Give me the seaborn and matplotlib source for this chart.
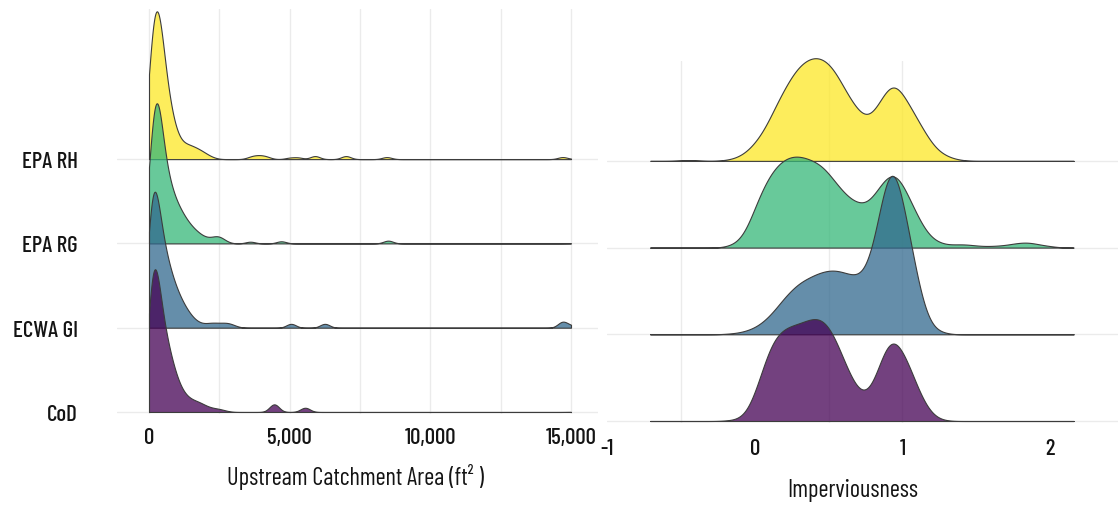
import numpy as np
import matplotlib
matplotlib.use("Agg")
import matplotlib.pyplot as plt
import matplotlib.transforms as mtransforms
import seaborn as sns

# ---------------- data ----------------
groups = ["CoD", "ECWA GI", "EPA RG", "EPA RH"]          # bottom -> top
draw_order = ["EPA RH", "EPA RG", "ECWA GI", "CoD"]       # lower ridges drawn on top
palette = {"EPA RH": "#FDE725", "EPA RG": "#35B779", "ECWA GI": "#31688E", "CoD": "#440154"}

# Upstream catchment area (ft2): binned values and relative frequencies
area_rh_x = [0, 100, 200, 300, 400, 500, 600, 700, 800, 900, 1000, 1100, 1200, 1300, 1400,
             1500, 1600, 1700, 1800, 1900, 2000, 2100, 2200, 2300, 2400,
             3600, 3800, 4000, 4200, 5000, 5300, 5900, 7000, 8450, 14700, 15000]
area_rh_w = [100, 130, 165, 170, 140, 105, 80, 60, 45, 32, 24, 17, 15, 15, 14,
             13, 12, 11, 9, 8, 6, 4, 2.5, 1.5, 0.5,
             6, 8, 8, 6, 5, 6, 12, 12, 8, 8, 0.5]

area_rg_x = [0, 100, 200, 300, 400, 500, 600, 700, 800, 900, 1000, 1100, 1200, 1300, 1400,
             1500, 1600, 1700, 1800, 1900, 2000, 2100, 2200, 2300, 2400, 2500, 2600, 2700, 2800,
             3600, 4700, 8500, 15000]
area_rg_w = [88, 145, 200, 200, 150, 110, 88, 75, 63, 53, 46, 40, 34, 29, 24,
             20, 17, 14, 11, 9, 7, 6, 6, 8, 10, 10, 7, 3, 1.5,
             8, 10, 13, 0.5]

area_gi_x = [0, 100, 200, 300, 400, 500, 600, 700, 800, 900, 1000, 1100, 1200, 1300, 1400,
             1500, 1600, 1700, 1800, 1900, 2000, 2100, 2200, 2300, 2400, 2500, 2600, 2700,
             2800, 2900, 3000, 3100, 3200, 5050, 6250, 14700, 15000]
area_gi_w = [150, 180, 175, 145, 112, 93, 80, 68, 57, 48, 40, 33, 27, 22, 17,
             13, 9, 7, 5, 4, 4, 5, 6, 5.5, 5, 5, 5, 5.5,
             6, 5, 3, 1.5, 0.5, 17, 17, 25, 8]

area_cod_x = [0, 100, 200, 300, 400, 500, 600, 700, 800, 900, 1000, 1100, 1200, 1300, 1400,
              1500, 1600, 1700, 1800, 1900, 2000, 2100, 2200, 2300, 2400, 2500, 2600, 2700,
              2800, 4450, 5550, 15000]
area_cod_w = [168, 205, 210, 175, 135, 108, 92, 78, 64, 50, 40, 31, 24, 20, 17,
              15, 14, 13, 12, 10, 8, 6, 5, 4.5, 4.5, 4, 3, 2,
              1, 38, 21, 0.5]

# Imperviousness: binned values and relative frequencies
imp_bins = [-0.2, -0.15, -0.1, -0.05, 0.0, 0.05, 0.1, 0.15, 0.2, 0.25, 0.3, 0.35, 0.4,
            0.45, 0.5, 0.55, 0.6, 0.65, 0.7, 0.75, 0.8, 0.85, 0.9, 0.95, 1.0, 1.05,
            1.1, 1.15, 1.2, 1.25, 1.3]
imp_rh_w = [1, 2, 5, 10, 18, 28, 42, 58, 72, 85, 95, 101, 104,
            103, 98, 88, 74, 61, 50, 43, 47, 60, 74, 78, 68, 55,
            42, 29, 17, 9, 5]
imp_rg_w = [1, 3, 8, 20, 40, 58, 72, 82, 88, 91, 91, 89, 86,
            82, 74, 64, 55, 48, 44, 43, 50, 62, 72, 75, 64, 48,
            32, 18, 9, 5, 3]
imp_gi_w = [0.5, 1, 2, 4, 7, 12, 19, 28, 38, 46, 53, 57, 61,
            64, 66, 66, 64, 61, 60, 66, 90, 130, 170, 175, 140, 100,
            58, 25, 8, 3, 1]
imp_cod_w = [0.5, 1, 3, 10, 28, 52, 75, 88, 94, 97, 99, 102, 105,
             104, 97, 82, 63, 45, 31, 27, 37, 60, 81, 84, 72, 55,
             35, 18, 7, 2, 0.5]
# extra tail values
imp_rh_tail_x = [-0.5, -0.45, -0.4, 1.35, 1.4]
imp_rh_tail_w = [0.8, 1.0, 0.8, 2, 1]
imp_rg_tail_x = [1.35, 1.4, 1.45, 1.5, 1.55, 1.6, 1.65, 1.7, 1.75, 1.8, 1.85, 1.9, 1.95, 2.0, 2.05]
imp_rg_tail_w = [3, 3.5, 3, 2, 1.5, 1.5, 2, 2.5, 4, 5, 5.5, 4, 2.5, 1.5, 0.5]

area_data = {
    "EPA RH": (area_rh_x, area_rh_w),
    "EPA RG": (area_rg_x, area_rg_w),
    "ECWA GI": (area_gi_x, area_gi_w),
    "CoD": (area_cod_x, area_cod_w),
}
imp_data = {
    "EPA RH": (imp_bins + imp_rh_tail_x, imp_rh_w + imp_rh_tail_w),
    "EPA RG": (imp_bins + imp_rg_tail_x, imp_rg_w + imp_rg_tail_w),
    "ECWA GI": (imp_bins, imp_gi_w),
    "CoD": (imp_bins, imp_cod_w),
}

# ---------------- style ----------------
FONT = ["Barlow Condensed", "DejaVu Sans"]
sns.set_theme(style="white")
plt.rcParams["font.family"] = FONT
plt.rcParams["font.weight"] = "medium"
GRID = "#ebebeb"
EDGE = "#3c3c3c"
TXT = "#141414"


def ridge(ax, x, w, row, color, bw, clip, scale):
    x = np.asarray(x, float)
    w = np.asarray(w, float)
    std = np.sqrt(np.cov(x, aweights=w))
    n0 = len(ax.collections)
    sns.kdeplot(x=x, weights=w, ax=ax, fill=True, color=color, alpha=0.75,
                edgecolor=EDGE, linewidth=0.8, bw_method=bw / std, cut=40,
                clip=clip, gridsize=1500)
    tr = mtransforms.Affine2D().scale(1, scale).translate(0, row) + ax.transData
    for c in ax.collections[n0:]:
        c.set_transform(tr)
        c.set_clip_on(False)


W, H = 1118, 506
fig = plt.figure(figsize=(W / 100, H / 100), dpi=100)

axL = fig.add_axes([117 / W, 1 - 415 / H, 481 / W, 405 / H])
axR = fig.add_axes([607 / W, 1 - 424 / H, 511 / W, 362 / H])

rows = {g: i for i, g in enumerate(groups)}

for g in draw_order:
    x, w = area_data[g]
    ridge(axL, x, w, rows[g], palette[g], bw=170, clip=(0, 15000), scale=1600)
    x, w = imp_data[g]
    ridge(axR, x, w, rows[g], palette[g], bw=0.045, clip=(-0.71, 2.16), scale=0.94)

for ax in (axL, axR):
    ax.set_facecolor("white")
    for s in ax.spines.values():
        s.set_visible(False)
    ax.tick_params(length=0, labelsize=16.5, colors=TXT)
    ax.set_ylabel("")
    ax.grid(False)
    for r in range(len(groups)):
        ax.axhline(r, color=GRID, lw=1.0, zorder=0)

# left axis
axL.set_xlim(-1138, 15960)
axL.set_ylim(-0.024, 4.781)
for v in [0, 2500, 5000, 7500, 10000, 12500, 15000]:
    axL.axvline(v, color=GRID, lw=1.0, zorder=0)
axL.set_xticks([0, 5000, 10000, 15000], ["0", "5,000", "10,000", "15,000"])
axL.set_yticks(range(len(groups)), groups)
axL.tick_params(axis="x", pad=9)
axL.tick_params(axis="y", pad=28)
axL.set_xlabel("Upstream Catchment Area (ft² )", fontsize=17.5, color=TXT)
axL.xaxis.set_label_coords(0.495, -0.122)

# right axis
axR.set_xlim(-1.003, 2.461)
axR.set_ylim(-0.023, 4.152)
for v in [-0.5, 0.5, 1.0]:
    axR.axvline(v, color=GRID, lw=1.0, zorder=0)
axR.set_xticks([-1, 0, 1, 2], ["-1", "0", "1", "2"])
axR.set_yticks([])
axR.tick_params(axis="x", pad=11)
axR.set_xlabel("Imperviousness", fontsize=17.5, color=TXT)
axR.xaxis.set_label_coords(0.481, -0.152)

fig.savefig("out.png", dpi=100, facecolor="white")
